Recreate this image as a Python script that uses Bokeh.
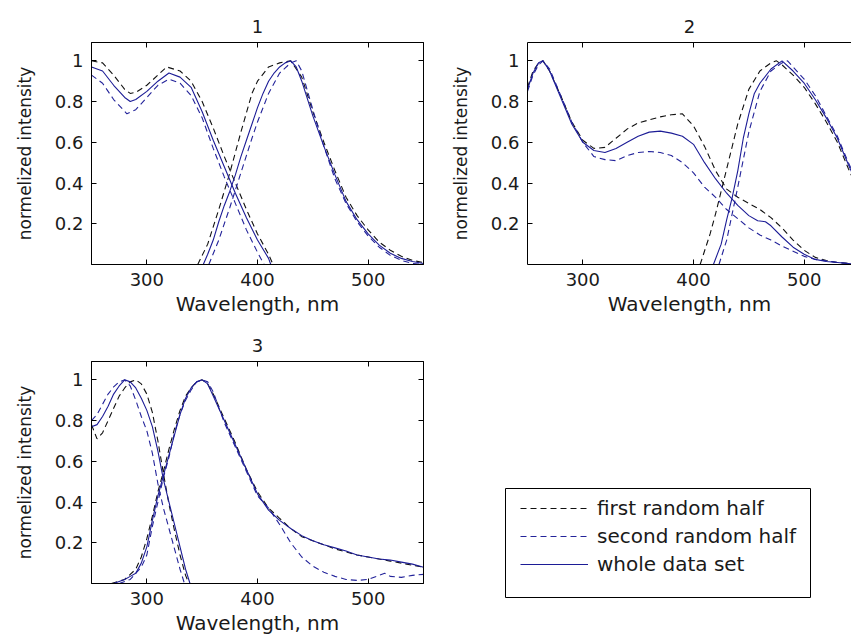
from bokeh.plotting import figure
from bokeh.models import (Range1d, LinearAxis, FixedTicker, CustomJSTickFormatter,
                          Legend, LegendItem, ColumnDataSource, Spacer)
from bokeh.layouts import row, column
from bokeh.embed import file_html
from bokeh.resources import INLINE

# ---------------- data ----------------
titles = ["1", "2", "3"]
x_ticks = [300, 400, 500]
y_ticks = [0.2, 0.4, 0.6, 0.8, 1.0]
legend_labels = ["first random half", "second random half", "whole data set"]

# panel 1 - excitation
p1_ex_first_wl = [250, 260, 270, 280, 285, 290, 300, 310, 318, 330, 340, 350, 360, 370, 380, 390, 400, 410, 414]
p1_ex_first = [1.0, 0.99, 0.93, 0.86, 0.84, 0.845, 0.88, 0.93, 0.97, 0.95, 0.90, 0.80, 0.67, 0.53, 0.40, 0.27, 0.15, 0.05, 0.0]
p1_ex_second_wl = [250, 260, 270, 282, 290, 300, 310, 320, 330, 340, 350, 360, 370, 380, 390, 400, 406]
p1_ex_second = [0.93, 0.89, 0.81, 0.74, 0.76, 0.82, 0.88, 0.91, 0.89, 0.83, 0.72, 0.57, 0.43, 0.30, 0.17, 0.06, 0.0]
p1_ex_whole_wl = [250, 260, 270, 280, 285, 290, 300, 310, 320, 330, 340, 350, 360, 370, 380, 390, 400, 410, 412]
p1_ex_whole = [0.97, 0.95, 0.88, 0.82, 0.80, 0.81, 0.85, 0.90, 0.94, 0.92, 0.87, 0.75, 0.61, 0.48, 0.35, 0.23, 0.12, 0.03, 0.0]
# panel 1 - emission
p1_em_first_wl = [346, 355, 365, 375, 385, 395, 400, 410, 420, 430, 440, 450, 460, 470, 480, 490, 500, 510, 520, 530, 540, 550]
p1_em_first = [0.0, 0.10, 0.27, 0.45, 0.65, 0.84, 0.90, 0.97, 0.99, 1.0, 0.92, 0.75, 0.60, 0.46, 0.33, 0.24, 0.17, 0.11, 0.07, 0.04, 0.02, 0.01]
p1_em_second_wl = [356, 365, 375, 385, 395, 400, 410, 420, 430, 435, 440, 450, 460, 470, 480, 490, 500, 510, 520, 530, 540, 550]
p1_em_second = [0.0, 0.12, 0.28, 0.45, 0.62, 0.70, 0.84, 0.94, 0.99, 1.0, 0.95, 0.76, 0.58, 0.42, 0.30, 0.21, 0.14, 0.085, 0.045, 0.02, 0.005, 0.0]
p1_em_whole_wl = [351, 355, 360, 365, 370, 375, 380, 385, 390, 395, 400, 405, 410, 415, 420, 425, 430, 435, 440, 450, 460, 470, 480, 490, 500, 510, 520, 530, 540, 550]
p1_em_whole = [0.0, 0.05, 0.12, 0.21, 0.29, 0.36, 0.44, 0.53, 0.61, 0.69, 0.77, 0.84, 0.90, 0.94, 0.97, 0.99, 1.0, 0.97, 0.90, 0.73, 0.58, 0.44, 0.31, 0.22, 0.15, 0.095, 0.055, 0.03, 0.015, 0.005]

# panel 2 - excitation
p2_ex_first_wl = [250, 255, 260, 264, 270, 280, 290, 300, 310, 320, 330, 340, 350, 360, 370, 380, 390, 400, 410, 420, 430, 440, 450, 460, 470, 480, 490, 500, 510, 520, 530, 540, 550]
p2_ex_first = [0.87, 0.95, 0.99, 1.0, 0.95, 0.83, 0.70, 0.61, 0.57, 0.575, 0.62, 0.665, 0.695, 0.71, 0.725, 0.735, 0.74, 0.68, 0.58, 0.46, 0.37, 0.33, 0.30, 0.27, 0.23, 0.18, 0.12, 0.07, 0.035, 0.02, 0.01, 0.005, 0.0]
p2_ex_second_wl = [250, 255, 260, 264, 270, 280, 290, 300, 310, 320, 330, 340, 350, 360, 370, 380, 390, 400, 410, 420, 430, 440, 450, 460, 470, 480, 490, 500, 510, 520, 530, 540, 550]
p2_ex_second = [0.85, 0.93, 0.98, 1.0, 0.96, 0.83, 0.70, 0.60, 0.53, 0.515, 0.51, 0.535, 0.55, 0.555, 0.55, 0.535, 0.50, 0.45, 0.38, 0.33, 0.27, 0.225, 0.18, 0.145, 0.12, 0.09, 0.065, 0.04, 0.025, 0.018, 0.01, 0.005, 0.0]
p2_ex_whole_wl = [250, 255, 260, 264, 270, 280, 290, 300, 310, 320, 330, 340, 350, 360, 370, 380, 390, 400, 410, 420, 430, 440, 450, 458, 465, 470, 480, 490, 500, 510, 520, 530, 540, 550]
p2_ex_whole = [0.86, 0.94, 0.99, 1.0, 0.95, 0.82, 0.69, 0.60, 0.56, 0.55, 0.57, 0.60, 0.63, 0.65, 0.655, 0.645, 0.63, 0.59, 0.50, 0.42, 0.35, 0.29, 0.24, 0.215, 0.21, 0.19, 0.135, 0.085, 0.05, 0.025, 0.015, 0.01, 0.005, 0.0]
# panel 2 - emission
p2_em_first_wl = [406, 415, 420, 430, 440, 450, 460, 470, 475, 480, 490, 500, 510, 520, 530, 540, 550]
p2_em_first = [0.0, 0.15, 0.25, 0.47, 0.69, 0.86, 0.95, 0.99, 1.0, 0.98, 0.93, 0.87, 0.79, 0.70, 0.60, 0.47, 0.35]
p2_em_second_wl = [423, 430, 440, 450, 460, 470, 480, 485, 490, 500, 510, 520, 530, 540, 550]
p2_em_second = [0.0, 0.12, 0.38, 0.65, 0.85, 0.95, 0.99, 1.0, 0.97, 0.91, 0.83, 0.73, 0.63, 0.50, 0.38]
p2_em_whole_wl = [418, 425, 430, 435, 440, 445, 450, 455, 460, 470, 480, 490, 500, 510, 520, 530, 540, 550]
p2_em_whole = [0.0, 0.10, 0.22, 0.33, 0.46, 0.62, 0.74, 0.84, 0.89, 0.96, 1.0, 0.95, 0.89, 0.81, 0.72, 0.62, 0.49, 0.37]

# panel 3 - excitation
p3_ex_first_wl = [250, 255, 260, 265, 270, 275, 280, 285, 290, 295, 300, 305, 310, 315, 320, 325, 330, 335, 338]
p3_ex_first = [0.78, 0.71, 0.74, 0.80, 0.86, 0.92, 0.96, 0.99, 1.0, 0.98, 0.93, 0.84, 0.70, 0.54, 0.39, 0.26, 0.14, 0.04, 0.0]
p3_ex_second_wl = [250, 255, 260, 265, 270, 275, 280, 285, 290, 295, 300, 305, 310, 315, 320, 325, 330, 334]
p3_ex_second = [0.80, 0.83, 0.88, 0.93, 0.965, 0.99, 1.0, 0.97, 0.90, 0.82, 0.75, 0.64, 0.49, 0.37, 0.27, 0.17, 0.07, 0.0]
p3_ex_whole_wl = [250, 255, 260, 265, 270, 275, 280, 285, 290, 295, 300, 305, 310, 315, 320, 325, 330, 335, 339]
p3_ex_whole = [0.77, 0.78, 0.82, 0.87, 0.93, 0.97, 1.0, 0.99, 0.96, 0.91, 0.85, 0.77, 0.65, 0.51, 0.40, 0.29, 0.18, 0.07, 0.0]
# panel 3 - emission
p3_em_first_wl = [268, 280, 290, 295, 300, 305, 310, 315, 320, 325, 330, 335, 340, 345, 350, 355, 360, 370, 380, 390, 400, 410, 420, 430, 440, 450, 460, 470, 480, 490, 500, 510, 520, 530, 540, 550]
p3_em_first = [0.0, 0.02, 0.07, 0.13, 0.22, 0.33, 0.45, 0.55, 0.66, 0.76, 0.85, 0.92, 0.96, 0.99, 1.0, 0.98, 0.93, 0.81, 0.69, 0.56, 0.45, 0.37, 0.32, 0.27, 0.23, 0.21, 0.19, 0.17, 0.155, 0.14, 0.13, 0.12, 0.11, 0.10, 0.09, 0.08]
p3_em_second_wl = [275, 285, 295, 300, 305, 310, 315, 320, 325, 330, 335, 340, 345, 350, 355, 360, 370, 380, 390, 400, 410, 420, 430, 440, 450, 460, 470, 480, 490, 500, 510, 515, 520, 530, 540, 550]
p3_em_second = [0.0, 0.02, 0.08, 0.14, 0.28, 0.40, 0.52, 0.62, 0.74, 0.83, 0.90, 0.95, 0.99, 1.0, 0.99, 0.94, 0.79, 0.67, 0.55, 0.43, 0.37, 0.29, 0.20, 0.13, 0.085, 0.055, 0.035, 0.02, 0.015, 0.02, 0.04, 0.05, 0.035, 0.03, 0.04, 0.045]
p3_em_whole_wl = [270, 280, 285, 290, 295, 300, 305, 310, 315, 320, 325, 330, 335, 340, 345, 350, 355, 360, 370, 380, 390, 400, 410, 420, 430, 440, 450, 460, 470, 480, 490, 500, 510, 520, 530, 540, 550]
p3_em_whole = [0.0, 0.02, 0.035, 0.05, 0.10, 0.18, 0.31, 0.43, 0.53, 0.63, 0.73, 0.83, 0.91, 0.96, 0.99, 1.0, 0.98, 0.92, 0.80, 0.68, 0.56, 0.44, 0.36, 0.31, 0.27, 0.235, 0.21, 0.19, 0.175, 0.16, 0.14, 0.13, 0.12, 0.115, 0.105, 0.095, 0.08]

# ---------------- styling ----------------
FONT = "DejaVu Sans"
TXT = "#1a1a1a"
C_FIRST = "#111111"
C_SECOND = "#23239a"
C_WHOLE = "#1c1c96"
DASH = "6 4"
LW = 1.1

STYLES = {
    "first": dict(line_color=C_FIRST, line_dash=DASH, line_width=LW),
    "second": dict(line_color=C_SECOND, line_dash=DASH, line_width=LW),
    "whole": dict(line_color=C_WHOLE, line_width=LW),
}

blank = CustomJSTickFormatter(code="return '';")
yfmt = CustomJSTickFormatter(code="return String(Math.round(tick * 10) / 10);")


def style_axis(ax, with_labels):
    ax.axis_line_color = "black"
    ax.axis_line_width = 1
    ax.major_tick_line_color = "black"
    ax.major_tick_in = 5
    ax.major_tick_out = 0
    ax.minor_tick_line_color = None
    ax.major_label_text_font = FONT
    ax.major_label_text_color = TXT
    ax.axis_label_text_font = FONT
    ax.axis_label_text_font_style = "normal"
    ax.axis_label_text_color = TXT
    if with_labels:
        ax.major_label_text_font_size = "18px"
    else:
        ax.major_label_text_font_size = "1px"
        ax.major_label_standoff = 0
        ax.formatter = blank


def make_panel(title, curves, width, height, left, right, top, bottom, x_end, boxed):
    p = figure(width=width, height=height,
               min_border_left=left, min_border_right=right,
               min_border_top=top, min_border_bottom=bottom,
               x_range=Range1d(250, x_end), y_range=Range1d(0, 1.09),
               output_backend="svg", toolbar_location=None,
               x_axis_label="Wavelength, nm", y_axis_label="normelized intensity",
               background_fill_color="white", border_fill_color="white")
    p.xgrid.visible = False
    p.ygrid.visible = False
    p.outline_line_color = "black" if boxed else None
    p.outline_line_width = 1

    p.title.text = title
    p.title.align = "center"
    p.title.text_font = FONT
    p.title.text_font_size = "18px"
    p.title.text_font_style = "normal"
    p.title.text_color = TXT
    p.title.standoff = 20

    xa = p.xaxis[0]
    ya = p.yaxis[0]
    xa.ticker = FixedTicker(ticks=x_ticks)
    ya.ticker = FixedTicker(ticks=y_ticks)
    ya.formatter = yfmt
    style_axis(xa, True)
    style_axis(ya, True)
    xa.major_label_standoff = 8
    xa.axis_label_standoff = 3
    xa.axis_label_text_font_size = "20px"
    ya.major_label_standoff = 8
    ya.axis_label_standoff = 17
    ya.axis_label_text_font_size = "17px"

    top_ax = LinearAxis(ticker=FixedTicker(ticks=x_ticks))
    style_axis(top_ax, False)
    p.add_layout(top_ax, "above")
    if boxed:
        right_ax = LinearAxis(ticker=FixedTicker(ticks=y_ticks))
        style_axis(right_ax, False)
        p.add_layout(right_ax, "right")

    # dashed halves first, whole data set on top
    for kind in ["first", "second", "whole"]:
        for wl, vals, k in curves:
            if k == kind:
                src = ColumnDataSource(data=dict(wl=wl, v=vals))
                p.line("wl", "v", source=src, **STYLES[k])
    return p


FW = 332
PX_PER_NM = FW / 300.0
p2_fw = 324

p1 = make_panel(titles[0], [
    (p1_ex_first_wl, p1_ex_first, "first"), (p1_ex_second_wl, p1_ex_second, "second"),
    (p1_ex_whole_wl, p1_ex_whole, "whole"),
    (p1_em_first_wl, p1_em_first, "first"), (p1_em_second_wl, p1_em_second, "second"),
    (p1_em_whole_wl, p1_em_whole, "whole")],
    444, 320, 91, 21, 42, 56, 550, True)

p2 = make_panel(titles[1], [
    (p2_ex_first_wl, p2_ex_first, "first"), (p2_ex_second_wl, p2_ex_second, "second"),
    (p2_ex_whole_wl, p2_ex_whole, "whole"),
    (p2_em_first_wl, p2_em_first, "first"), (p2_em_second_wl, p2_em_second, "second"),
    (p2_em_whole_wl, p2_em_whole, "whole")],
    407, 320, 83, 0, 42, 56, 250 + p2_fw / PX_PER_NM, False)

p3 = make_panel(titles[2], [
    (p3_ex_first_wl, p3_ex_first, "first"), (p3_ex_second_wl, p3_ex_second, "second"),
    (p3_ex_whole_wl, p3_ex_whole, "whole"),
    (p3_em_first_wl, p3_em_first, "first"), (p3_em_second_wl, p3_em_second, "second"),
    (p3_em_whole_wl, p3_em_whole, "whole")],
    444, 319, 91, 21, 41, 56, 550, True)

# ---------------- legend panel ----------------
p4 = figure(width=407, height=151, title=None,
            min_border_left=61, min_border_right=41, min_border_top=0, min_border_bottom=42,
            x_range=Range1d(0, 1), y_range=Range1d(0, 1),
            x_axis_type=None, y_axis_type=None,
            output_backend="svg", toolbar_location=None,
            background_fill_color="white", border_fill_color="white")
p4.outline_line_color = "black"
p4.outline_line_width = 1

nan = float("nan")
items = []
for lab, k in zip(legend_labels, ["first", "second", "whole"]):
    r = p4.line(x=[nan], y=[nan], **STYLES[k])
    items.append(LegendItem(label=lab, renderers=[r]))

leg = Legend(items=items, location=(15, 21), padding=5, spacing=4, margin=0,
             glyph_width=68, glyph_height=22, label_height=22, label_standoff=9,
             label_text_font=FONT, label_text_font_size="20px", label_text_color=TXT,
             border_line_color=None, background_fill_alpha=0)
p4.add_layout(leg, "center")

right_col = column(Spacer(width=407, height=168), p4)
layout = column(row(p1, p2), row(p3, right_col))

open("out.html", "w").write(file_html(layout, INLINE))
